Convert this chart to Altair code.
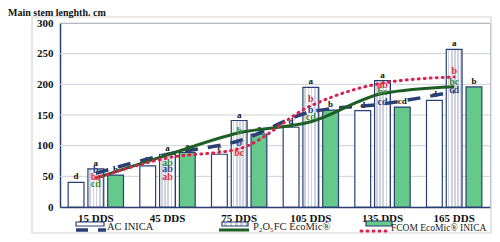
import altair as alt
import pandas as pd

# ---------------- data ----------------
days = ["15 DDS", "45 DDS", "75 DDS", "105 DDS", "135 DDS", "165 DDS"]
treatments = ["AC INICA", "P₂O₅FC EcoMic®", "FCOM EcoMic® INICA"]

bar_ac = [40, 67, 86, 130, 157, 174]
bar_p = [62, 86, 141, 195, 206, 257]
bar_f = [52, 89, 119, 158, 163, 196]
bar_letters_ac = ["d", "b", "c", "d", "d", "d"]
bar_letters_p = ["a", "a", "a", "a", "a", "a"]
bar_letters_f = ["b", "a", "a", "b", "cd", "b"]

line_ac = [55, 86, 108, 155, 168, 188]
line_p = [47, 85, 121, 139, 185, 196]
line_f = [47, 80, 95, 165, 202, 212]
line_letters_ac = ["b", "ab", "b", "b", "cd", "cd"]
line_letters_p = ["cd", "ab", "b", "cd", "bc", "bc"]
line_letters_f = ["bc", "ab", "bc", "b", "ab", "b"]
letter_h_ac = [60, 62, 104, 158, 172, 190]
letter_h_p = [38, 72, 124, 147, 188, 204]
letter_h_f = [49, 49, 88, 176, 199, 221]

y_ticks = [0, 50, 100, 150, 200, 250, 300]

# ---------------- styles ----------------
NAVY = "#2B3F73"
GREEN_FILL = "#66C98C"
DARK_GREEN = "#1E5E24"
RED = "#D9234F"
SERIF = "Liberation Serif"

def bar_df(vals, letters, trt):
    return pd.DataFrame({"day": days, "value": vals, "letter": letters, "trt": trt})

def line_df(vals, letters, heights, trt):
    return pd.DataFrame({"day": days, "value": vals, "letter": letters,
                         "h": heights, "trt": trt})

x_scale = alt.Scale(domain=days, paddingInner=0.2, paddingOuter=0.1)
y_scale = alt.Scale(domain=[0, 300], nice=False)
off_scale = alt.Scale(domain=treatments, paddingInner=0.2, paddingOuter=0.05)

y_axis = alt.Axis(title=None, values=y_ticks, ticks=False, domainColor=NAVY,
                  domainWidth=1.5, labelFont=SERIF, labelFontWeight="bold",
                  labelFontSize=11, labelColor="#111", labelPadding=7, grid=False)

X = alt.X("day:N", scale=x_scale, sort=days,
          axis=alt.Axis(title=None, labelAngle=0, ticks=False, domainColor=NAVY,
                        domainWidth=1.5, labelFont=SERIF, labelFontWeight="bold",
                        labelFontSize=11, labelColor="#111", labelPadding=5, grid=False))
Y = alt.Y("value:Q", scale=y_scale, axis=y_axis)
OFF = alt.XOffset("trt:N", scale=off_scale, sort=treatments)

stripes = []
n = 5
for i in range(n):
    a = i / n
    b = a + 0.45 / n
    c = (i + 1) / n
    stripes += [alt.GradientStop(offset=a, color="#FFFFFF"),
                alt.GradientStop(offset=b, color="#FFFFFF"),
                alt.GradientStop(offset=b, color="#CDD2DE"),
                alt.GradientStop(offset=c, color="#CDD2DE")]
dots_fill = alt.LinearGradient(gradient="linear", stops=stripes, x1=0, x2=1, y1=0, y2=0)

one = pd.DataFrame({"k": [0]})

frame = alt.Chart(one).mark_rect(fill="transparent", stroke="#D4D4D4", strokeWidth=1.2).encode(
    x=alt.value(-28), x2=alt.value(431), y=alt.value(-6), y2=alt.value(210))

grid = alt.Chart(pd.DataFrame({"value": y_ticks[1:]})).mark_rule(
    color="#CDD0D8", strokeWidth=1).encode(y=Y)

bars_ac = alt.Chart(bar_df(bar_ac, bar_letters_ac, treatments[0])).mark_bar(
    fill="white", stroke=NAVY, strokeWidth=1.2).encode(x=X, y=Y, xOffset=OFF)
bars_p = alt.Chart(bar_df(bar_p, bar_letters_p, treatments[1])).mark_bar(
    fill=dots_fill, stroke=NAVY, strokeWidth=1.2).encode(x=X, y=Y, xOffset=OFF)
bars_f = alt.Chart(bar_df(bar_f, bar_letters_f, treatments[2])).mark_bar(
    fill=GREEN_FILL, stroke=NAVY, strokeWidth=1.2).encode(x=X, y=Y, xOffset=OFF)

bar_letters = alt.layer(*[
    alt.Chart(bar_df(v, l, t)).mark_text(dy=-6, font=SERIF, fontWeight="bold",
                                         fontSize=9, color="#111").encode(
        x=X, y=Y, xOffset=OFF, text="letter:N")
    for v, l, t in [(bar_ac, bar_letters_ac, treatments[0]),
                    (bar_p, bar_letters_p, treatments[1]),
                    (bar_f, bar_letters_f, treatments[2])]
])

line_ac_ch = alt.Chart(line_df(line_ac, line_letters_ac, letter_h_ac, treatments[0])).mark_line(
    color=NAVY, strokeWidth=3.5, strokeDash=[13, 10], interpolate="monotone").encode(x=X, y=Y)
line_p_ch = alt.Chart(line_df(line_p, line_letters_p, letter_h_p, treatments[1])).mark_line(
    color=DARK_GREEN, strokeWidth=3, interpolate="monotone").encode(x=X, y=Y)
line_f_ch = alt.Chart(line_df(line_f, line_letters_f, letter_h_f, treatments[2])).mark_line(
    color=RED, strokeWidth=3, strokeDash=[1, 5], strokeCap="round",
    interpolate="monotone").encode(x=X, y=Y)

line_letters = alt.layer(*[
    alt.Chart(line_df(v, l, h, t)).mark_text(font=SERIF, fontWeight="bold",
                                             fontSize=10, color=c).encode(
        x=X, y=alt.Y("h:Q", scale=y_scale, axis=y_axis), text="letter:N")
    for v, l, h, t, c in [(line_ac, line_letters_ac, letter_h_ac, treatments[0], "#2E4A8C"),
                          (line_p, line_letters_p, letter_h_p, treatments[1], "#3C8A3C"),
                          (line_f, line_letters_f, letter_h_f, treatments[2], "#E03040")]
])

title = alt.Chart(one).mark_text(text="Main stem lenghth. cm", font=SERIF, fontWeight="bold",
                                 fontSize=10, align="left", baseline="top", color="#111").encode(
    x=alt.value(-52), y=alt.value(-15))

# legend
leg_rect_ac = alt.Chart(one).mark_rect(fill="white", stroke=NAVY, strokeWidth=1.2).encode(
    x=alt.value(16), x2=alt.value(44), y=alt.value(199), y2=alt.value(203))
leg_rect_p = alt.Chart(one).mark_rect(fill=dots_fill, stroke=NAVY, strokeWidth=1.2).encode(
    x=alt.value(162), x2=alt.value(188), y=alt.value(199), y2=alt.value(203))
leg_rect_f = alt.Chart(one).mark_rect(fill=GREEN_FILL, stroke=NAVY, strokeWidth=1.2).encode(
    x=alt.value(306), x2=alt.value(332), y=alt.value(198), y2=alt.value(203))
leg_line_ac = alt.Chart(one).mark_rule(color=NAVY, strokeWidth=3.5, strokeDash=[12, 10]).encode(
    x=alt.value(16), x2=alt.value(46), y=alt.value(207))
leg_line_p = alt.Chart(one).mark_rule(color=DARK_GREEN, strokeWidth=3).encode(
    x=alt.value(159), x2=alt.value(189), y=alt.value(207))
leg_line_f = alt.Chart(one).mark_rule(color=RED, strokeWidth=3, strokeDash=[1, 5],
                                      strokeCap="round").encode(
    x=alt.value(301), x2=alt.value(328), y=alt.value(208))
leg_text = alt.layer(*[
    alt.Chart(one).mark_text(text=t, font=SERIF, fontSize=fs, align="left",
                             baseline="middle", color="#222").encode(
        x=alt.value(xp), y=alt.value(yp))
    for t, xp, yp, fs in [(treatments[0], 47, 204, 10.5), (treatments[1], 193, 204, 10.5),
                          (treatments[2], 331, 205, 9.5)]
])

chart = alt.layer(
    frame, grid, bars_ac, bars_p, bars_f, bar_letters,
    line_ac_ch, line_p_ch, line_f_ch, line_letters,
    title, leg_rect_ac, leg_rect_p, leg_rect_f,
    leg_line_ac, leg_line_p, leg_line_f, leg_text
).properties(
    width=430, height=184,
    padding={"left": 52, "top": 15, "right": 2, "bottom": 27},
    autosize=alt.AutoSizeParams(type="none"),
    background="white"
).configure_view(stroke="#9AA3B8", strokeWidth=1)

chart.save("out.html", embed_options={"renderer": "svg", "actions": False})
